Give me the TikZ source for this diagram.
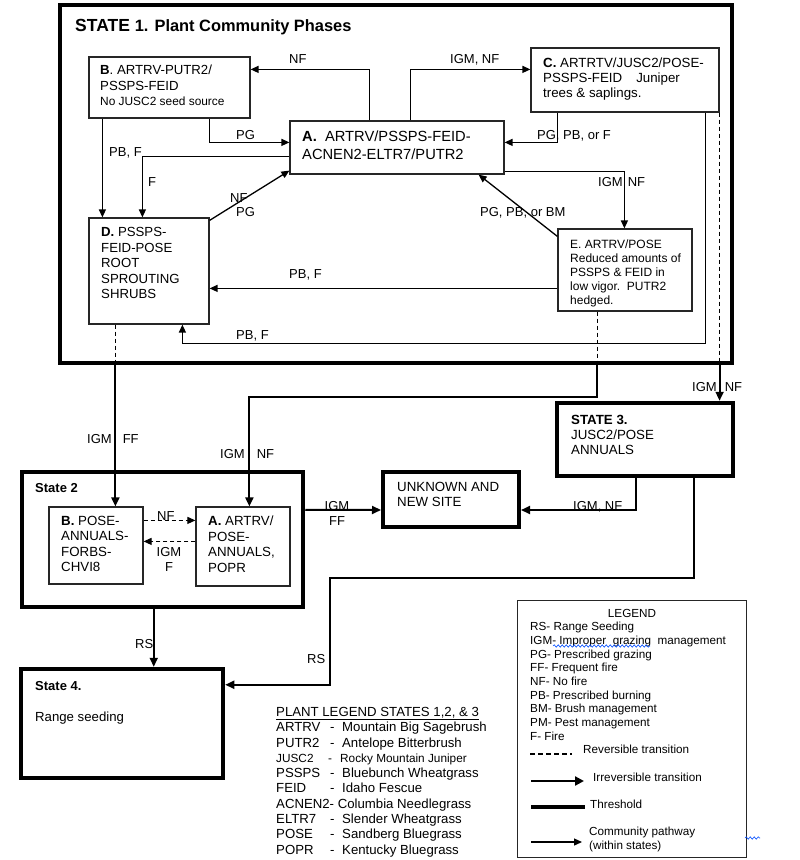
\documentclass[tikz,border=0pt]{standalone}
\usepackage{fontspec}
\setmainfont{Liberation Sans}
\usetikzlibrary{arrows.meta,fit,decorations.pathmorphing}
\begin{document}
\begin{tikzpicture}[x=1pt,y=-1pt,
  thinbox/.style={draw=black!85,line width=1.2pt,inner sep=0pt},
  statebox/.style={draw=black,line width=4.5pt,inner sep=0pt},
  pathw/.style={draw=black,line width=1.3pt,-{Triangle[length=8pt,width=7pt]}},
  trans/.style={draw=black,line width=2pt,-{Triangle[length=9pt,width=8pt]}},
  revline/.style={draw=black,line width=1.1pt,dash pattern=on 4pt off 3pt},
  revarr/.style={revline,-{Triangle[length=8pt,width=7pt]}},
  txt/.style={anchor=north west,align=left,inner sep=0pt},
  lbl/.style={anchor=north west,inner sep=0pt,font=\fontsize{13}{15.5}\selectfont},
  lgf/.style={font=\fontsize{11.7}{13.7}\selectfont},
]
\useasboundingbox (0,0) rectangle (800,860);
\fill[white] (0,0) rectangle (800,860);

% ---------------- State 1 ----------------
\node[statebox,fit={(60,5) (732,363)}] (S1) {};
\node[anchor=base west,inner sep=0pt] (S1t) at (75,31) {\fontsize{17.5}{20}\selectfont\bfseries STATE \fontsize{16.4}{20}\selectfont 1. Plant Community Phases};

\node[thinbox,fit={(89,57) (250,118)}] (B1) {};
\node[txt,font=\fontsize{13.2}{15.5}\selectfont] (B1t) at (100,65) {\textbf{B}. ARTRV-PUTR2/\\PSSPS-FEID\\{\fontsize{11.9}{15}\selectfont No JUSC2 seed source}};

\node[thinbox,fit={(290,121) (504,174)}] (A1) {};
\node[txt,font=\fontsize{14.7}{18}\selectfont] (A1t) at (302,131) {\textbf{A.}\ \ ARTRV/PSSPS-FEID-\\ACNEN2-ELTR7/PUTR2};

\node[thinbox,fit={(531,48) (719,112)}] (C1) {};
\node[txt,font=\fontsize{13.3}{15}\selectfont] (C1t) at (543,58) {\textbf{C.} ARTRTV/JUSC2/POSE-\\PSSPS-FEID\hspace{14pt}Juniper\\trees \& saplings.};

\node[thinbox,fit={(89,218) (209,324)}] (D1) {};
\node[txt,font=\fontsize{13.2}{15.6}\selectfont] (D1t) at (101,227) {\textbf{D.} PSSPS-\\FEID-POSE\\ROOT\\SPROUTING\\SHRUBS};

\node[thinbox,fit={(558,229) (692,311)}] (E1) {};
\node[txt,font=\fontsize{12}{14}\selectfont] (E1t) at (570,240) {E. ARTRV/POSE\\Reduced amounts of\\PSSPS \& FEID in\\low vigor.\ \ PUTR2\\hedged.};

% community pathways in state 1
\draw[pathw] ([xshift=80pt]A1.north west) |- ([yshift=-13pt]B1.north east);
\draw[pathw] ([xshift=121pt]A1.north west) |- ([yshift=-22pt]C1.north west);
\draw[pathw] ([xshift=-41pt]B1.south east) |- ([yshift=-22pt]A1.north west);
\draw[pathw] ([yshift=-36pt]A1.north west) -| ([xshift=54pt]D1.north west);
\draw[pathw] ([xshift=14pt]B1.south west) -- ([xshift=14pt]D1.north west);
\draw[pathw] ([yshift=-3pt]D1.north east) -- ([yshift=4pt]A1.south west);
\draw[pathw] ([xshift=27pt]C1.south west) |- ([yshift=-22pt]A1.north east);
\draw[pathw] ([yshift=3pt]A1.south east) -| ([xshift=67pt]E1.north west);
\draw[pathw] ([yshift=-8pt]E1.north west) -- ([xshift=-26pt]A1.south east);
\draw[pathw] ([yshift=-60pt]E1.north west) -- ([yshift=-71pt]D1.north east);
\draw[pathw] ([xshift=-14pt]C1.south east) -- ++(0,231) -| ([xshift=94pt]D1.south west);

% ---------------- State 2 ----------------
\node[statebox,fit={(22,472) (303,607)}] (S2) {};
\node[txt,font=\fontsize{13}{15}\selectfont\bfseries] (S2t) at (35,483) {State 2};
\node[thinbox,fit={(49,507) (143,584)}] (B2) {};
\node[txt,font=\fontsize{13.3}{15.5}\selectfont] (B2t) at (61,516) {\textbf{B.} POSE-\\ANNUALS-\\FORBS-\\CHVI8};
\node[thinbox,fit={(196,507) (290,586)}] (A2) {};
\node[txt,font=\fontsize{13.3}{15.5}\selectfont] (A2t) at (208,516) {\textbf{A.} ARTRV/\\POSE-\\ANNUALS,\\POPR};
\draw[revarr] ([yshift=-14pt]B2.north east) -- ([yshift=-14pt]A2.north west);
\draw[revarr] ([yshift=-35pt]A2.north west) -- ([yshift=-35pt]B2.north east);

% ---------------- Unknown, State 3, State 4 ----------------
\node[statebox,line width=4pt,fit={(383,472) (519,527)}] (U) {};
\node[txt,font=\fontsize{13.3}{15}\selectfont] (Ut) at (397,482) {UNKNOWN AND\\NEW SITE};

\node[statebox,fit={(557,403) (733,476)}] (S3) {};
\node[txt,font=\fontsize{13.3}{15}\selectfont] (S3t) at (571,415) {\textbf{STATE 3.}\\JUSC2/POSE\\ANNUALS};

\node[statebox,fit={(21,669) (223,778)}] (S4) {};
\node[txt,font=\fontsize{13}{15}\selectfont\bfseries] (S4t) at (35,681) {State 4.};
\node[txt,font=\fontsize{13.2}{15}\selectfont] (S4r) at (35,712) {Range seeding};

% ---------------- transitions between states ----------------
\coordinate (dD) at ([xshift=27pt]D1.south west);
\coordinate (dE) at ([xshift=40pt]E1.south west);
\coordinate (dC) at (C1.south east);
\draw[revline] (dD) -- (dD |- S1.south);
\draw[trans] (dD |- S1.south) -- (dD |- B2.north);
\draw[revline] (dE) -- (dE |- S1.south);
\draw[trans] (dE |- S1.south) -- ++(0,32) -| ([xshift=54pt]A2.north west);
\draw[revline] (dC) -- (dC |- S1.south);
\draw[trans] (dC |- S1.south) -- (dC |- S3.north);
\draw[trans] ([yshift=-40pt]S2.north east) -- ([yshift=-40pt]U.north west);
\draw[trans] ([xshift=81pt]S3.south west) |- ([yshift=-40pt]U.north east);
\coordinate (bend) at (330,578);
\draw[trans] ([xshift=-41pt]S3.south east) |- (bend) |- ([yshift=-18pt]S4.north east);
\coordinate (rs) at ([xshift=134pt]S2.south west);
\draw[trans] (rs) -- (rs |- S4.north);

% ---------------- labels ----------------
\node[lbl] (l1) at (289,54) {NF};
\node[lbl] (l2) at (450,54) {IGM, NF};
\node[lbl] (l3) at (236,130) {PG};
\node[lbl] (l4) at (109,147) {PB, F};
\node[lbl] (l5) at (148,177) {F};
\node[lbl] (l6) at (230,193) {NF};
\node[lbl] (l7) at (236,207) {PG};
\node[lbl] (l8) at (537,130) {PG, PB, or F};
\node[lbl] (l9) at (598,177) {IGM\hspace{5pt}NF};
\node[lbl] (l10) at (480,207) {PG, PB, or BM};
\node[lbl] (l11) at (289,269) {PB, F};
\node[lbl] (l12) at (236,330) {PB, F};
\node[lbl] (l13) at (87,434) {IGM\hspace{11pt}FF};
\node[lbl] (l14) at (220,449) {IGM\hspace{12pt}NF};
\node[lbl] (l15) at (692,382) {IGM\hspace{8pt}NF};
\node[lbl,anchor=north,align=center] (l16) at (337,501) {IGM\\FF};
\node[lbl] (l17) at (573,501) {IGM, NF};
\node[lbl] (l18) at (157,511) {NF};
\node[lbl,anchor=north,align=center] (l19) at (169,547) {IGM\\F};
\node[lbl] (l20) at (135,639) {RS};
\node[lbl] (l21) at (307,654) {RS};

% ---------------- plant legend ----------------
\node[txt,font=\fontsize{13.2}{15.3}\selectfont] (PL) at (276,707) {\underline{PLANT LEGEND STATES 1,2, \& 3}\\
\makebox[54pt][l]{ARTRV}\makebox[12pt][l]{-}Mountain Big Sagebrush\\
\makebox[54pt][l]{PUTR2}\makebox[12pt][l]{-}Antelope Bitterbrush\\
{\fontsize{11.8}{15.3}\selectfont\makebox[52pt][l]{JUSC2}\makebox[12pt][l]{-}Rocky Mountain Juniper}\\
\makebox[54pt][l]{PSSPS}\makebox[12pt][l]{-}Bluebunch Wheatgrass\\
\makebox[54pt][l]{FEID}\makebox[12pt][l]{-}Idaho Fescue\\
ACNEN2- Columbia Needlegrass\\
\makebox[54pt][l]{ELTR7}\makebox[12pt][l]{-}Slender Wheatgrass\\
\makebox[54pt][l]{POSE}\makebox[12pt][l]{-}Sandberg Bluegrass\\
\makebox[54pt][l]{POPR}\makebox[12pt][l]{-}Kentucky Bluegrass};

% ---------------- legend ----------------
\node[draw=black!85,line width=1pt,inner sep=0pt,fit={(517,600) (746,857)}] (LG) {};
\node[anchor=north,inner sep=0pt,lgf] (LGt) at (632,609) {LEGEND};
\node[txt,lgf] (LGl) at (530,622) {RS- Range Seeding\\IGM- Improper\ \ grazing\ \ management\\PG- Prescribed grazing\\FF- Frequent fire\\NF- No fire\\PB- Prescribed burning\\BM- Brush management\\PM- Pest management\\F- Fire};
\draw[blue!70!cyan,line width=0.6pt,decorate,decoration={snake,amplitude=1.2pt,segment length=4pt}] (553,646) -- (650,646);
\coordinate (rv1) at (530,754);
\coordinate (rv2) at (572,754);
\draw[draw=black,line width=1.2pt,dash pattern=on 5pt off 3pt] (rv1) -- (rv2);
\node[txt,lgf] (LGr) at (583,745) {Reversible transition};
\coordinate (ir1) at (531,781);
\coordinate (ir2) at (584,781);
\draw[line width=2.5pt,-{Triangle[length=9pt,width=9pt]}] (ir1) -- (ir2);
\node[txt,lgf] (LGi) at (593,773) {Irreversible transition};
\coordinate (th1) at (531,807);
\coordinate (th2) at (585,807);
\draw[line width=4pt] (th1) -- (th2);
\node[txt,lgf] (LGh) at (590,800) {Threshold};
\coordinate (cp1) at (531,842);
\coordinate (cp2) at (582,842);
\draw[pathw] (cp1) -- (cp2);
\node[txt,lgf] (LGc) at (589,827) {Community pathway\\(within states)};
\draw[blue!70!cyan,line width=0.6pt,decorate,decoration={snake,amplitude=1.2pt,segment length=4pt}] (745,838) -- (760,838);
\end{tikzpicture}
\end{document}
